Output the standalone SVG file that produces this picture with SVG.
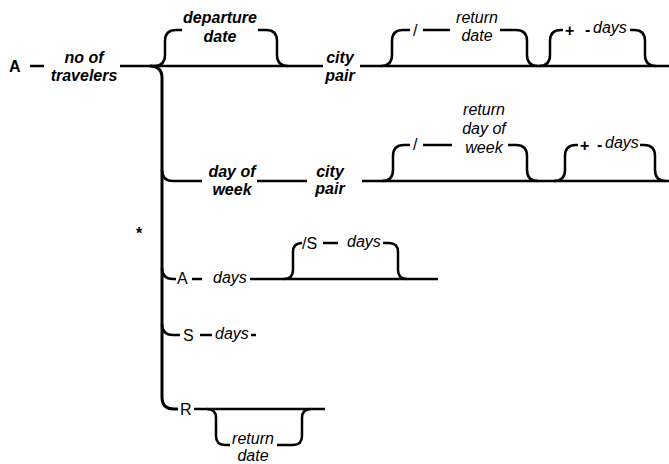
<svg xmlns="http://www.w3.org/2000/svg" width="669" height="464" viewBox="0 0 669 464">
  <style>
    .ln { fill: none; stroke: #000; stroke-width: 2.5; }
    .trunk { fill: none; stroke: #000; stroke-width: 3; }
    text { font-family: "Liberation Sans", Arial, sans-serif; font-size: 16px; fill: #000; }
    .bi { font-weight: bold; font-style: italic; text-anchor: middle; }
    .it { font-style: italic; }
    .itc { font-style: italic; text-anchor: middle; }
    .b { font-weight: bold; }
  </style>
  <rect width="669" height="464" fill="#fff"/>

  <g id="connectors">
    <!-- header -->
    <path class="ln" d="M30,66 H44"/>
    <path class="ln" d="M120,66 H323"/>
    <path class="trunk" d="M150,66 Q162,66 162,78 V397 Q162,409 174,409 H178"/>
    <!-- departure date option -->
    <path class="ln" d="M154,66 Q165,66 165,55 V41 Q165,30 176,30 H182"/>
    <path class="ln" d="M258,30 H266 Q277,30 277,41 V55 Q277,66 288,66"/>
    <!-- row 1 options -->
    <path class="ln" d="M360,66 H669"/>
    <path class="ln" d="M381,66 Q392,66 392,55 V41 Q392,30 403,30 H410"/>
    <path class="ln" d="M423,30 H450"/>
    <path class="ln" d="M500,30 H516 Q527,30 527,41 V55 Q527,66 538,66"/>
    <path class="ln" d="M539,66 Q550,66 550,55 V41 Q550,30 561,30 H563"/>
    <path class="ln" d="M630,30 H634 Q645,30 645,41 V55 Q645,66 656,66"/>
    <!-- row 2 -->
    <path class="ln" d="M162,170 Q162,181 173,181 H202"/>
    <path class="ln" d="M257,181 H307"/>
    <path class="ln" d="M362,181 H669"/>
    <path class="ln" d="M382,181 Q393,181 393,170 V156 Q393,145 404,145 H410"/>
    <path class="ln" d="M423,145 H452"/>
    <path class="ln" d="M508,145 H516 Q527,145 527,156 V170 Q527,181 538,181"/>
    <path class="ln" d="M554,181 Q565,181 565,170 V156 Q565,145 576,145 H578"/>
    <path class="ln" d="M640,145 H644 Q655,145 655,156 V170 Q655,181 666,181"/>
    <!-- row 3 -->
    <path class="ln" d="M162,268 Q162,279 173,279 H176"/>
    <path class="ln" d="M192,279 H202"/>
    <path class="ln" d="M250,279 H438"/>
    <path class="ln" d="M284,279 Q293,279 293,270 V252 Q293,243 302,243"/>
    <path class="ln" d="M323,243 H338"/>
    <path class="ln" d="M383,243 H389 Q398,243 398,252 V270 Q398,279 407,279"/>
    <!-- row 4 -->
    <path class="ln" d="M162,324 Q162,335 173,335 H180"/>
    <path class="ln" d="M200,335 H212"/>
    <path class="ln" d="M251,335 H256"/>
    <!-- row 5 -->
    <path class="ln" d="M194,409 H325"/>
    <path class="ln" d="M207,409 Q216,409 216,418 V436 Q216,445 225,445 H230"/>
    <path class="ln" d="M277,445 H293 Q302,445 302,436 V418 Q302,409 311,409"/>
  </g>

  <g id="start"><text class="b" x="9" y="72">A</text></g>
  <g id="travelers"><text class="bi" x="84" y="63">no of</text><text class="bi" x="84" y="81">travelers</text></g>
  <g id="departure-date"><text class="bi" x="220" y="23">departure</text><text class="bi" x="220" y="42">date</text></g>
  <g id="city-pair-1"><text class="bi" x="340" y="63">city</text><text class="bi" x="340" y="81">pair</text></g>
  <g id="return-date-1"><text x="413" y="36">/</text><text class="itc" x="477" y="23">return</text><text class="itc" x="477" y="41">date</text></g>
  <g id="days-1"><text class="b" x="565" y="36">+</text><text class="b" x="585" y="35">-</text><text class="it" x="593" y="33">days</text></g>

  <g id="day-of-week"><text class="bi" x="232" y="177">day of</text><text class="bi" x="232" y="195">week</text></g>
  <g id="city-pair-2"><text class="bi" x="330" y="177">city</text><text class="bi" x="330" y="194">pair</text></g>
  <g id="return-day"><text x="413" y="150">/</text><text class="itc" x="484" y="115">return</text><text class="itc" x="484" y="134">day of</text><text class="itc" x="484" y="153">week</text></g>
  <g id="days-2"><text class="b" x="580" y="151">+</text><text class="b" x="597" y="150">-</text><text class="it" x="605" y="148">days</text></g>

  <g id="repeat"><text class="b" x="136" y="239">*</text></g>

  <g id="a-days"><text x="177" y="284">A</text><text class="it" x="213" y="283">days</text></g>
  <g id="s-days-opt"><text x="302" y="249">/S</text><text class="it" x="347" y="247">days</text></g>
  <g id="s-days"><text x="183" y="341">S</text><text class="it" x="215" y="339">days</text></g>
  <g id="r"><text x="180" y="415">R</text></g>
  <g id="return-date-2"><text class="itc" x="253" y="444">return</text><text class="itc" x="253" y="461">date</text></g>
</svg>
